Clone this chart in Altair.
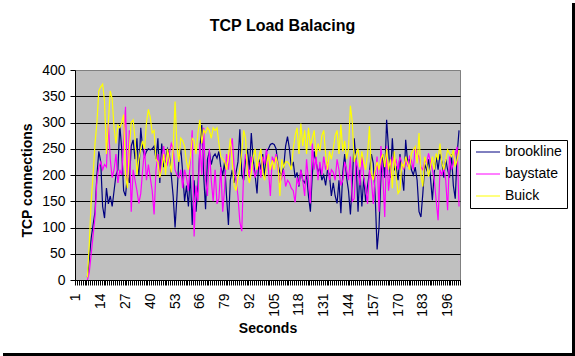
import altair as alt
import pandas as pd

title_text = "TCP Load Balacing"
x_title = "Seconds"
y_title = "TCP connections"
series_names = ["brookline", "baystate", "Buick"]
series_colors = ["#000080", "#FF00FF", "#FFFF00"]
seconds = list(range(1, 203))
y_ticks = [0, 50, 100, 150, 200, 250, 300, 350, 400]

brookline = [None] * 6 + [
    5, 40, 80, 105, 130, 200, 245, 225, 140, 118, 175, 145, 160, 140, 170, 200, 210, 295, 250, 170, 160, 200, 185, 255, 267, 230, 270, 200,
    290, 250, 235, 245, 250, 248, 250, 255, 230, 270, 185, 260, 215, 230, 250, 240, 200, 160, 100, 160, 230, 250, 205, 150, 180, 140, 200, 105, 190, 130, 180, 250, 295, 200,
    135, 230, 245, 220, 235, 240, 232, 245, 215, 200, 225, 160, 105, 190, 210, 185, 205, 225, 287, 200, 190, 230, 250, 210, 280, 230, 200, 165, 230, 210, 240, 195, 245,
    250, 258, 260, 258, 250, 220, 205, 200, 215, 255, 273, 250, 215, 225, 195, 205, 178, 210, 190, 185, 200, 160, 130, 200, 245, 225, 205, 215, 190, 200, 180, 210, 200, 160,
    185, 160, 146, 190, 127, 205, 240, 195, 170, 125, 185, 270, 225, 130, 210, 140, 195, 150, 180, 205, 240, 222, 160, 58, 100, 195, 240, 195, 305, 250, 195, 270, 210,
    215, 190, 240, 200, 170, 267, 225, 230, 210, 200, 215, 190, 130, 120, 165, 220, 210, 230, 195, 152, 205, 235, 210, 240, 225, 195, 230, 210, 195, 240, 180, 155, 240, 285,
]
baystate = [None] * 6 + [
    0, 15, 50, 85, 120, 190, 215, 225, 210, 220, 215, 300, 230, 195, 210, 240, 185, 210, 200, 267, 330, 180, 285, 130, 210, 190, 170, 146,
    165, 210, 250, 190, 220, 195, 170, 125, 210, 240, 195, 230, 255, 230, 220, 240, 260, 250, 210, 200, 195, 210, 175, 210, 195, 170, 230, 285, 83, 180, 150, 260, 200, 290,
    190, 160, 250, 190, 150, 210, 145, 155, 215, 130, 175, 240, 210, 250, 270, 215, 190, 160, 110, 93, 210, 240, 220, 195, 235, 215, 195, 210, 225, 195, 235, 220, 250,
    210, 160, 235, 225, 240, 210, 185, 195, 210, 178, 190, 185, 175, 170, 148, 195, 180, 210, 190, 160, 230, 190, 146, 260, 210, 235, 190, 225, 200, 235, 210, 225, 190, 210,
    205, 190, 230, 210, 180, 190, 225, 210, 190, 235, 150, 155, 230, 210, 180, 240, 195, 175, 145, 210, 190, 145, 200, 235, 130, 255, 200, 120, 255, 170, 205, 235, 220,
    228, 210, 235, 222, 210, 228, 216, 235, 228, 210, 254, 240, 235, 215, 210, 228, 222, 241, 225, 210, 190, 152, 114, 210, 200, 215, 190, 133, 235, 210, 222, 240, 254, 140,
]
buick = [None] * 6 + [
    5, 70, 150, 200, 260, 300, 360, 368, 373, 340, 240, 300, 360, 345, 290, 260, 295, 290, 300, 315, 200, 175, 250, 300, 305, 270, 200, 230,
    250, 265, 250, 300, 325, 310, 280, 285, 230, 225, 195, 210, 240, 200, 250, 230, 205, 250, 340, 255, 225, 270, 265, 255, 225, 210, 235, 270, 265, 240, 280, 305, 260, 285,
    280, 290, 285, 270, 290, 285, 290, 260, 235, 230, 225, 210, 235, 270, 225, 180, 170, 195, 210, 245, 285, 270, 200, 185, 205, 235, 250, 210, 235, 250, 205, 190, 220,
    240, 210, 228, 210, 235, 220, 160, 230, 215, 225, 225, 220, 210, 250, 275, 290, 240, 298, 255, 285, 240, 290, 255, 270, 285, 235, 260, 245, 275, 285, 240, 210, 245, 230,
    250, 275, 285, 240, 296, 245, 265, 230, 250, 332, 300, 225, 240, 250, 215, 245, 225, 210, 240, 293, 205, 190, 210, 225, 210, 230, 240, 215, 250, 210, 230, 175, 245,
    197, 165, 171, 222, 215, 235, 222, 210, 241, 248, 254, 222, 280, 200, 178, 235, 222, 197, 216, 235, 210, 241, 229, 260, 222, 210, 229, 248, 241, 235, 248, 216, 229, 248,
]

rows = []
for name, vals in zip(series_names, [brookline, baystate, buick]):
    for s, v in zip(seconds, vals):
        rows.append({"sec": s, "series": name, "value": v})
df = pd.DataFrame(rows)

FONT = "Liberation Sans"

lines = alt.Chart(df).mark_line(strokeWidth=1.2, clip=False).encode(
    x=alt.X(
        "sec:O",
        scale=alt.Scale(domain=seconds, paddingInner=0, paddingOuter=0),
        axis=alt.Axis(
            values=seconds,
            labelExpr="(datum.value - 1) % 13 == 0 ? datum.label : ''",
            labelAngle=270,
            labelOverlap=False,
            tickBand="extent",
            tickSize=5,
            tickColor="black",
            domainColor="black",
            labelPadding=8,
            labelFont=FONT,
            labelFontSize=14,
            labelColor="black",
            title=x_title,
            titleFont=FONT,
            titleFontSize=14,
            titleFontWeight="bold",
            titleColor="black",
            titleY=48,
            titleBaseline="middle",
            grid=False,
        ),
    ),
    y=alt.Y(
        "value:Q",
        scale=alt.Scale(domain=[0, 400], nice=False),
        axis=alt.Axis(
            values=y_ticks,
            tickSize=5,
            tickColor="black",
            domainColor="black",
            labelPadding=5,
            labelFont=FONT,
            labelFontSize=14,
            labelColor="black",
            grid=True,
            gridColor={"condition": {"test": "datum.value == 400", "value": "#808080"}, "value": "black"},
            gridWidth=1,
            title=y_title,
            titleFont=FONT,
            titleFontSize=14,
            titleFontWeight="bold",
            titleColor="black",
            titleAngle=270,
            titleX=-48,
            titleY=110,
            titleBaseline="middle",
            titleAlign="center",
        ),
    ),
    color=alt.Color(
        "series:N",
        scale=alt.Scale(domain=series_names, range=series_colors),
        sort=series_names,
        legend=alt.Legend(
            orient="none",
            legendX=395,
            legendY=70,
            title=None,
            symbolType="M-1,0H3",
            symbolSize=144,
            symbolStrokeWidth=1,
            labelOffset=16,
            labelFont=FONT,
            labelFontSize=14,
            labelColor="black",
            padding=5,
            rowPadding=8,
            strokeColor="black",
            fillColor="white",
            cornerRadius=0,
        ),
    ),
    order=alt.Order("sec:Q"),
)

frame_df = pd.DataFrame({"k": [0]})
shadow_right = alt.Chart(frame_df).mark_rect(color="black", clip=False).encode(
    x=alt.value(497), x2=alt.value(500), y=alt.value(-67), y2=alt.value(286)
)
shadow_bottom = alt.Chart(frame_df).mark_rect(color="black", clip=False).encode(
    x=alt.value(-72), x2=alt.value(500), y=alt.value(283), y2=alt.value(286)
)

chart = alt.layer(lines, shadow_right, shadow_bottom).properties(
    width=385,
    height=210,
    title=alt.Title(
        title_text,
        font=FONT,
        fontSize=16,
        fontWeight="bold",
        color="black",
        anchor="middle",
        frame="group",
        dx=15,
        offset=-39,
        baseline="middle",
    ),
    autosize=alt.AutoSizeParams(type="none"),
    padding={"left": 75, "top": 70, "right": 115, "bottom": 76},
).configure(background="white").configure_view(
    fill="#C0C0C0", stroke="#808080", strokeWidth=1
)

chart.save("out.html", embed_options={"renderer": "svg", "actions": False})
